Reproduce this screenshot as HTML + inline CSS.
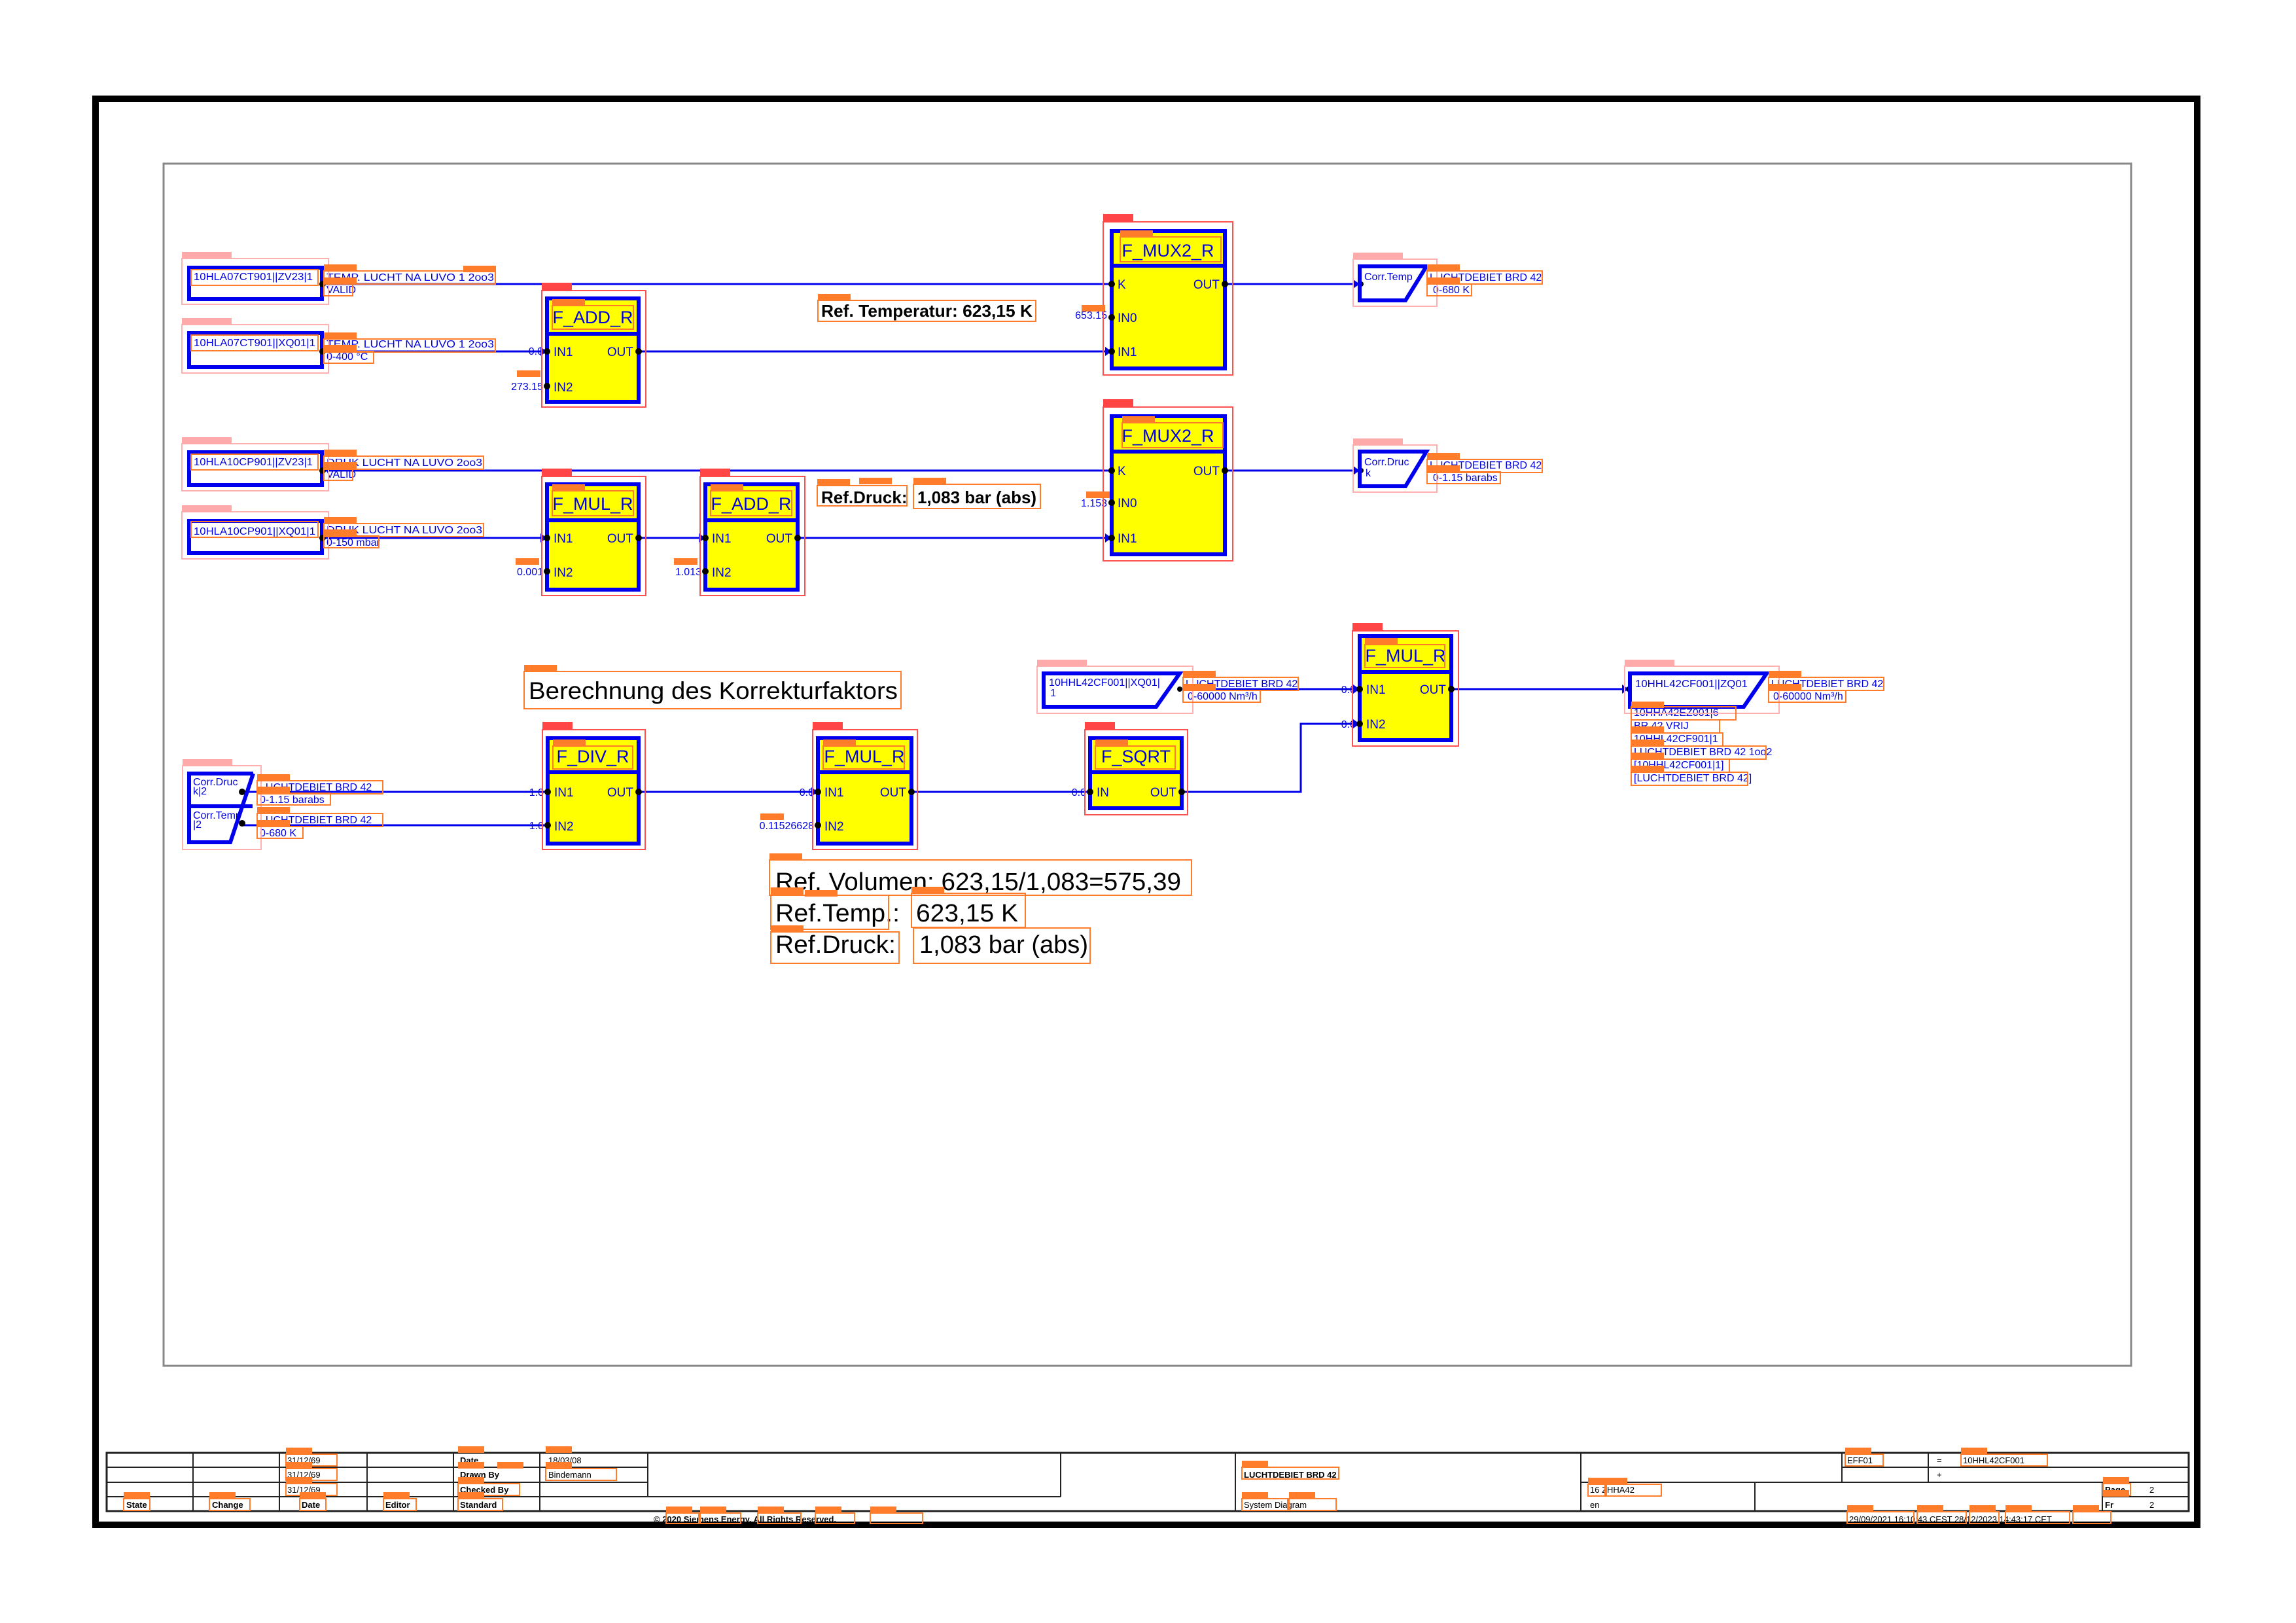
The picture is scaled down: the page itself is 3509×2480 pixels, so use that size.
<!DOCTYPE html>
<html><head><meta charset="utf-8"><style>
html,body{margin:0;padding:0;background:#fff}
svg{display:block}
.b{fill:none;stroke:#0000ee;stroke-width:6}
.w{fill:none;stroke:#0000ee;stroke-width:3}
.y{fill:#ffff00;stroke:#0000ee;stroke-width:6}
.t{font-family:"Liberation Sans",sans-serif;fill:#0000dd;font-size:16px}
.pt{font-family:"Liberation Sans",sans-serif;fill:#0000dd;font-size:19px}
.ti{font-family:"Liberation Sans",sans-serif;fill:#0000dd;font-size:27px}
.k{font-family:"Liberation Sans",sans-serif;fill:#000}
.tb{font-family:"Liberation Sans",sans-serif;fill:#000;font-size:13px}
.ob{fill:none;stroke:#ff7d2a;stroke-width:2}
.lc{fill:none;stroke:#ff5050;stroke-width:2}
.li{fill:none;stroke:#ffb0b0;stroke-width:2}
.of{fill:#ff7d2a}
.rf{fill:#ff4545}
.pf{fill:#ffaaaa}
.g{stroke:#222;stroke-width:2}
</style></head><body>
<svg width="3509" height="2480" viewBox="0 0 3509 2480" xmlns="http://www.w3.org/2000/svg">
<rect width="3509" height="2480" fill="#fff"/>
<rect x="146" y="151" width="3212" height="2179" fill="none" stroke="#000" stroke-width="10"/>
<rect x="250" y="250" width="3007" height="1837" fill="none" stroke="#888" stroke-width="3"/>

<polyline class="w" points="493,434 1699,434"/>
<polyline class="w" points="493,537 836,537"/>
<polyline class="w" points="976,537 1699,537"/>
<polyline class="w" points="493,719 1699,719"/>
<polyline class="w" points="493,822 836,822"/>
<polyline class="w" points="976,822 1078,822"/>
<polyline class="w" points="1219,822 1699,822"/>
<polyline class="w" points="1872,434 2078,434"/>
<polyline class="w" points="1872,719 2078,719"/>
<polyline class="w" points="370,1210 837,1210"/>
<polyline class="w" points="370,1261 837,1261"/>
<polyline class="w" points="976,1210 1250,1210"/>
<polyline class="w" points="1393,1210 1666,1210"/>
<polyline class="w" points="1806,1210 1988,1210 1988,1106 2078,1106"/>
<polyline class="w" points="1803,1053 2078,1053"/>
<polyline class="w" points="2218,1053 2489,1053"/>
<g fill="#0000ee">
<polygon points="1699,537 1689,530 1689,544"/>
<polygon points="1699,822 1689,815 1689,829"/>
<polygon points="836,822 826,815 826,829"/>
<polygon points="1078,822 1068,815 1068,829"/>
<polygon points="836,537 826,530 826,544"/>
<polygon points="2078,434 2068,427 2068,441"/>
<polygon points="2078,719 2068,712 2068,726"/>
<polygon points="2489,1053 2479,1046 2479,1060"/>
<polygon points="2078,1053 2068,1046 2068,1060"/>
<polygon points="2078,1106 2068,1099 2068,1113"/>
<polygon points="1250,1210 1240,1203 1240,1217"/>
</g>

<rect class="b" x="289" y="409" width="203" height="48"/>
<rect class="b" x="289" y="509" width="203" height="52"/>
<rect class="b" x="289" y="691" width="203" height="50"/>
<rect class="b" x="289" y="796" width="203" height="49"/>
<text class="t" x="296" y="428" textLength="182" lengthAdjust="spacingAndGlyphs">10HLA07CT901||ZV23|1</text>
<text class="t" x="296" y="529" textLength="186" lengthAdjust="spacingAndGlyphs">10HLA07CT901||XQ01|1</text>
<text class="t" x="296" y="711" textLength="182" lengthAdjust="spacingAndGlyphs">10HLA10CP901||ZV23|1</text>
<text class="t" x="296" y="817" textLength="186" lengthAdjust="spacingAndGlyphs">10HLA10CP901||XQ01|1</text>
<text class="t" x="499" y="429" textLength="256" lengthAdjust="spacingAndGlyphs">TEMP. LUCHT NA LUVO 1  2oo3</text>
<text class="t" x="499" y="448">VALID</text>
<text class="t" x="499" y="531" textLength="256" lengthAdjust="spacingAndGlyphs">TEMP. LUCHT NA LUVO 1  2oo3</text>
<text class="t" x="499" y="550">0-400 °C</text>
<text class="t" x="499" y="712" textLength="238" lengthAdjust="spacingAndGlyphs">DRUK LUCHT NA LUVO  2oo3</text>
<text class="t" x="499" y="730">VALID</text>
<text class="t" x="499" y="815" textLength="238" lengthAdjust="spacingAndGlyphs">DRUK LUCHT NA LUVO  2oo3</text>
<text class="t" x="499" y="834">0-150 mbar</text>

<rect class="y" x="836" y="456" width="140" height="158"/>
<line x1="836" y1="510" x2="976" y2="510" stroke="#0000ee" stroke-width="6"/>
<text class="ti" x="906" y="494" text-anchor="middle">F_ADD_R</text>
<text class="pt" x="846" y="544">IN1</text><text class="pt" x="846" y="598">IN2</text><text class="pt" x="968" y="544" text-anchor="end">OUT</text>
<text class="t" x="830" y="542" text-anchor="end">0.0</text><text class="t" x="830" y="596" text-anchor="end">273.15</text>
<rect class="y" x="836" y="740" width="140" height="161"/>
<line x1="836" y1="795" x2="976" y2="795" stroke="#0000ee" stroke-width="6"/>
<text class="ti" x="906" y="779" text-anchor="middle">F_MUL_R</text>
<text class="pt" x="846" y="829">IN1</text><text class="pt" x="846" y="881">IN2</text><text class="pt" x="968" y="829" text-anchor="end">OUT</text>
<text class="t" x="830" y="879" text-anchor="end">0.001</text>
<rect class="y" x="1078" y="740" width="141" height="161"/>
<line x1="1078" y1="795" x2="1219" y2="795" stroke="#0000ee" stroke-width="6"/>
<text class="ti" x="1148" y="779" text-anchor="middle">F_ADD_R</text>
<text class="pt" x="1088" y="829">IN1</text><text class="pt" x="1088" y="881">IN2</text><text class="pt" x="1211" y="829" text-anchor="end">OUT</text>
<text class="t" x="1072" y="879" text-anchor="end">1.013</text>
<rect class="y" x="1699" y="353" width="173" height="210"/>
<line x1="1699" y1="406" x2="1872" y2="406" stroke="#0000ee" stroke-width="6"/>
<text class="ti" x="1785" y="392" text-anchor="middle">F_MUX2_R</text>
<text class="pt" x="1708" y="441">K</text><text class="pt" x="1708" y="492">IN0</text><text class="pt" x="1708" y="544">IN1</text><text class="pt" x="1864" y="441" text-anchor="end">OUT</text>
<text class="t" x="1692" y="487" text-anchor="end">653.15</text>
<rect class="y" x="1699" y="636" width="173" height="211"/>
<line x1="1699" y1="690" x2="1872" y2="690" stroke="#0000ee" stroke-width="6"/>
<text class="ti" x="1785" y="675" text-anchor="middle">F_MUX2_R</text>
<text class="pt" x="1708" y="726">K</text><text class="pt" x="1708" y="775">IN0</text><text class="pt" x="1708" y="829">IN1</text><text class="pt" x="1864" y="726" text-anchor="end">OUT</text>
<text class="t" x="1692" y="774" text-anchor="end">1.153</text>
<rect class="y" x="837" y="1128" width="139" height="161"/>
<line x1="837" y1="1180" x2="976" y2="1180" stroke="#0000ee" stroke-width="6"/>
<text class="ti" x="906" y="1165" text-anchor="middle">F_DIV_R</text>
<text class="pt" x="847" y="1217">IN1</text><text class="pt" x="847" y="1269">IN2</text><text class="pt" x="968" y="1217" text-anchor="end">OUT</text>
<text class="t" x="831" y="1216" text-anchor="end">1.0</text><text class="t" x="831" y="1267" text-anchor="end">1.0</text>
<rect class="y" x="1250" y="1128" width="143" height="161"/>
<line x1="1250" y1="1180" x2="1393" y2="1180" stroke="#0000ee" stroke-width="6"/>
<text class="ti" x="1321" y="1165" text-anchor="middle">F_MUL_R</text>
<text class="pt" x="1260" y="1217">IN1</text><text class="pt" x="1260" y="1269">IN2</text><text class="pt" x="1385" y="1217" text-anchor="end">OUT</text>
<text class="t" x="1244" y="1216" text-anchor="end">0.0</text><text class="t" x="1244" y="1267" text-anchor="end">0.11526628</text>
<rect class="y" x="1666" y="1128" width="140" height="107"/>
<line x1="1666" y1="1180" x2="1806" y2="1180" stroke="#0000ee" stroke-width="6"/>
<text class="ti" x="1736" y="1165" text-anchor="middle">F_SQRT</text>
<text class="pt" x="1676" y="1217">IN</text><text class="pt" x="1798" y="1217" text-anchor="end">OUT</text>
<text class="t" x="1660" y="1216" text-anchor="end">0.0</text>
<rect class="y" x="2078" y="972" width="140" height="159"/>
<line x1="2078" y1="1027" x2="2218" y2="1027" stroke="#0000ee" stroke-width="6"/>
<text class="ti" x="2148" y="1011" text-anchor="middle">F_MUL_R</text>
<text class="pt" x="2088" y="1060">IN1</text><text class="pt" x="2088" y="1113">IN2</text><text class="pt" x="2210" y="1060" text-anchor="end">OUT</text>
<text class="t" x="2072" y="1059" text-anchor="end">0.0</text><text class="t" x="2072" y="1112" text-anchor="end">0.0</text>

<g fill="#000">
<circle cx="493" cy="434" r="5"/><circle cx="493" cy="537" r="5"/><circle cx="493" cy="719" r="5"/><circle cx="493" cy="822" r="5"/>
<circle cx="836" cy="537" r="5"/><circle cx="836" cy="590" r="5"/><circle cx="976" cy="537" r="5"/>
<circle cx="836" cy="822" r="5"/><circle cx="836" cy="873" r="5"/><circle cx="976" cy="822" r="5"/>
<circle cx="1078" cy="822" r="5"/><circle cx="1078" cy="873" r="5"/><circle cx="1219" cy="822" r="5"/>
<circle cx="1699" cy="434" r="5"/><circle cx="1699" cy="485" r="5"/><circle cx="1699" cy="537" r="5"/><circle cx="1872" cy="434" r="5"/>
<circle cx="1699" cy="719" r="5"/><circle cx="1699" cy="768" r="5"/><circle cx="1699" cy="822" r="5"/><circle cx="1872" cy="719" r="5"/>
<circle cx="837" cy="1210" r="5"/><circle cx="837" cy="1261" r="5"/><circle cx="976" cy="1210" r="5"/>
<circle cx="1250" cy="1210" r="5"/><circle cx="1250" cy="1261" r="5"/><circle cx="1393" cy="1210" r="5"/>
<circle cx="1666" cy="1210" r="5"/><circle cx="1806" cy="1210" r="5"/>
<circle cx="2078" cy="1053" r="5"/><circle cx="2078" cy="1106" r="5"/><circle cx="2218" cy="1053" r="5"/>
<circle cx="370" cy="1210" r="5"/><circle cx="370" cy="1258" r="5"/><circle cx="1803" cy="1053" r="4"/>
<circle cx="2080" cy="434" r="4"/><circle cx="2080" cy="719" r="4"/><circle cx="2489" cy="1053" r="4"/>
</g>

<polygon class="b" points="2078,407 2180,407 2148,459 2078,459"/>
<text class="t" x="2085" y="428">Corr.Temp</text>
<text class="t" x="2185" y="429">LUCHTDEBIET BRD 42</text>
<text class="t" x="2190" y="448">0-680 K</text>
<polygon class="b" points="2078,690 2180,690 2148,743 2078,743"/>
<text class="t" x="2085" y="711">Corr.Druc</text><text class="t" x="2087" y="728">k</text>
<text class="t" x="2185" y="716">LUCHTDEBIET BRD 42</text>
<text class="t" x="2190" y="735">0-1.15 barabs</text>

<polygon class="b" points="1595,1029 1803,1029 1767,1080 1595,1080"/>
<text class="t" x="1603" y="1048" textLength="170" lengthAdjust="spacingAndGlyphs">10HHL42CF001||XQ01|</text>
<text class="t" x="1605" y="1064">1</text>
<text class="t" x="1812" y="1050">LUCHTDEBIET BRD 42</text>
<text class="t" x="1815" y="1069">0-60000 Nm³/h</text>

<polygon class="b" points="2491,1029 2700,1029 2665,1080 2491,1080"/>
<text class="t" x="2499" y="1050" textLength="172" lengthAdjust="spacingAndGlyphs">10HHL42CF001||ZQ01</text>
<text class="t" x="2707" y="1050">LUCHTDEBIET BRD 42</text>
<text class="t" x="2710" y="1069">0-60000 Nm³/h</text>
<text class="t" x="2497" y="1094">10HHA42EZ001|6</text>
<text class="t" x="2497" y="1114">BR 42 VRIJ</text>
<text class="t" x="2497" y="1134">10HHL42CF901|1</text>
<text class="t" x="2497" y="1154">LUCHTDEBIET BRD 42 1oo2</text>
<text class="t" x="2497" y="1174">[10HHL42CF001|1]</text>
<text class="t" x="2497" y="1194">[LUCHTDEBIET BRD 42]</text>

<polyline class="b" points="387,1182 289,1182 289,1287 352,1287 387,1182"/>
<polyline class="b" points="289,1232 386,1232"/>
<text class="t" x="295" y="1200">Corr.Druc</text><text class="t" x="295" y="1214">k|2</text>
<text class="t" x="295" y="1251">Corr.Temp</text><text class="t" x="295" y="1265">|2</text>
<text class="t" x="397" y="1208">LUCHTDEBIET BRD 42</text>
<text class="t" x="397" y="1227">0-1.15 barabs</text>
<text class="t" x="397" y="1258">LUCHTDEBIET BRD 42</text>
<text class="t" x="397" y="1278">0-680 K</text>

<text class="k" x="1255" y="484" font-size="26" font-weight="bold" textLength="323" lengthAdjust="spacingAndGlyphs">Ref. Temperatur:  623,15 K</text>
<text class="k" x="1255" y="769" font-size="26" font-weight="bold">Ref.Druck:</text>
<text class="k" x="1402" y="769" font-size="26" font-weight="bold">1,083 bar (abs)</text>
<text class="k" x="808" y="1068" font-size="37" textLength="564" lengthAdjust="spacingAndGlyphs">Berechnung des Korrekturfaktors</text>
<text class="k" x="1185" y="1360" font-size="38" textLength="620" lengthAdjust="spacingAndGlyphs">Ref. Volumen: 623,15/1,083=575,39</text>
<text class="k" x="1185" y="1408" font-size="38" textLength="190" lengthAdjust="spacingAndGlyphs">Ref.Temp.:</text>
<text class="k" x="1400" y="1408" font-size="38" textLength="156" lengthAdjust="spacingAndGlyphs">623,15 K</text>
<text class="k" x="1185" y="1456" font-size="38" textLength="184" lengthAdjust="spacingAndGlyphs">Ref.Druck:</text>
<text class="k" x="1405" y="1456" font-size="38" textLength="258" lengthAdjust="spacingAndGlyphs">1,083 bar (abs)</text>

<g>
<rect class="lc" x="828" y="444" width="159" height="178"/><rect class="rf" x="828" y="432" width="46" height="12"/>
<rect class="lc" x="828" y="728" width="159" height="182"/><rect class="rf" x="828" y="716" width="46" height="12"/>
<rect class="lc" x="1070" y="728" width="160" height="182"/><rect class="rf" x="1070" y="716" width="46" height="12"/>
<rect class="lc" x="1686" y="339" width="198" height="234"/><rect class="rf" x="1686" y="327" width="46" height="12"/>
<rect class="lc" x="1686" y="622" width="198" height="235"/><rect class="rf" x="1686" y="610" width="46" height="12"/>
<rect class="lc" x="829" y="1115" width="157" height="183"/><rect class="rf" x="829" y="1103" width="46" height="12"/>
<rect class="lc" x="1242" y="1115" width="160" height="183"/><rect class="rf" x="1242" y="1103" width="46" height="12"/>
<rect class="lc" x="1658" y="1115" width="157" height="130"/><rect class="rf" x="1658" y="1103" width="46" height="12"/>
<rect class="lc" x="2067" y="964" width="162" height="176"/><rect class="rf" x="2067" y="952" width="46" height="12"/>
<rect class="li" x="278" y="395" width="224" height="70"/><rect class="pf" x="278" y="385" width="76" height="10"/>
<rect class="li" x="278" y="496" width="224" height="74"/><rect class="pf" x="278" y="486" width="76" height="10"/>
<rect class="li" x="278" y="678" width="224" height="72"/><rect class="pf" x="278" y="668" width="76" height="10"/>
<rect class="li" x="278" y="782" width="224" height="72"/><rect class="pf" x="278" y="772" width="76" height="10"/>
<rect class="li" x="2068" y="396" width="128" height="72"/><rect class="pf" x="2068" y="386" width="76" height="10"/>
<rect class="li" x="2068" y="680" width="128" height="72"/><rect class="pf" x="2068" y="670" width="76" height="10"/>
<rect class="li" x="1585" y="1018" width="238" height="72"/><rect class="pf" x="1585" y="1008" width="76" height="10"/>
<rect class="li" x="2483" y="1018" width="236" height="72"/><rect class="pf" x="2483" y="1008" width="76" height="10"/>
<rect class="li" x="279" y="1170" width="120" height="128"/><rect class="pf" x="279" y="1160" width="76" height="10"/>
<g class="ob">
<rect x="1250" y="459" width="333" height="32"/><rect x="1249" y="742" width="137" height="31"/><rect x="1396" y="740" width="194" height="37"/>
<rect x="801" y="1026" width="576" height="57"/><rect x="1176" y="1314" width="645" height="54"/>
<rect x="1178" y="1368" width="180" height="52"/><rect x="1393" y="1365" width="174" height="52"/>
<rect x="1178" y="1424" width="196" height="48"/><rect x="1396" y="1418" width="270" height="54"/>
<rect x="844" y="467" width="124" height="36"/><rect x="844" y="750" width="124" height="38"/><rect x="1086" y="750" width="124" height="38"/>
<rect x="1712" y="362" width="154" height="38"/><rect x="1715" y="646" width="154" height="38"/>
<rect x="845" y="1140" width="122" height="35"/><rect x="1258" y="1140" width="124" height="35"/><rect x="1674" y="1140" width="122" height="35"/><rect x="2086" y="985" width="122" height="35"/>
<rect x="292" y="412" width="194" height="24"/><rect x="292" y="512" width="194" height="24"/><rect x="292" y="694" width="194" height="24"/><rect x="292" y="797" width="194" height="24"/>
<rect x="495" y="414" width="262" height="20"/><rect x="495" y="434" width="44" height="18"/>
<rect x="495" y="518" width="262" height="20"/><rect x="495" y="537" width="76" height="18"/>
<rect x="495" y="697" width="244" height="20"/><rect x="495" y="716" width="44" height="18"/>
<rect x="495" y="800" width="244" height="20"/><rect x="495" y="819" width="84" height="18"/>
<rect x="2181" y="414" width="176" height="20"/><rect x="2181" y="434" width="68" height="18"/>
<rect x="2181" y="702" width="176" height="20"/><rect x="2181" y="721" width="112" height="18"/>
<rect x="1808" y="1035" width="176" height="20"/><rect x="1808" y="1055" width="118" height="18"/>
<rect x="2703" y="1035" width="176" height="20"/><rect x="2703" y="1055" width="118" height="18"/>
<rect x="2493" y="1080" width="160" height="20"/><rect x="2493" y="1100" width="135" height="20"/><rect x="2493" y="1120" width="140" height="20"/><rect x="2493" y="1140" width="206" height="20"/><rect x="2493" y="1160" width="150" height="20"/><rect x="2493" y="1180" width="178" height="20"/>
<rect x="393" y="1193" width="192" height="20"/><rect x="393" y="1212" width="112" height="18"/><rect x="393" y="1243" width="192" height="20"/><rect x="393" y="1263" width="70" height="18"/>
</g>
<g class="of">
<rect x="1250" y="449" width="50" height="10"/><rect x="1249" y="732" width="50" height="10"/><rect x="1313" y="730" width="50" height="10"/><rect x="1396" y="730" width="50" height="10"/>
<rect x="801" y="1016" width="50" height="10"/><rect x="1176" y="1304" width="50" height="10"/><rect x="1178" y="1356" width="50" height="12"/><rect x="1230" y="1360" width="50" height="10"/><rect x="1393" y="1355" width="50" height="10"/><rect x="1178" y="1414" width="50" height="10"/>
<rect x="844" y="457" width="50" height="10"/><rect x="844" y="740" width="50" height="10"/><rect x="1086" y="740" width="50" height="10"/>
<rect x="1712" y="352" width="50" height="10"/><rect x="1715" y="636" width="50" height="10"/>
<rect x="845" y="1130" width="50" height="10"/><rect x="1258" y="1130" width="50" height="10"/><rect x="1674" y="1130" width="50" height="10"/><rect x="2086" y="975" width="50" height="10"/>
<rect x="495" y="404" width="50" height="10"/><rect x="495" y="424" width="50" height="10"/><rect x="708" y="406" width="50" height="10"/>
<rect x="495" y="508" width="50" height="10"/><rect x="495" y="527" width="50" height="10"/>
<rect x="495" y="687" width="50" height="10"/><rect x="495" y="706" width="50" height="10"/>
<rect x="495" y="790" width="50" height="10"/><rect x="495" y="809" width="50" height="10"/>
<rect x="2181" y="404" width="50" height="10"/><rect x="2181" y="424" width="50" height="10"/>
<rect x="2181" y="692" width="50" height="10"/><rect x="2181" y="711" width="50" height="10"/>
<rect x="1808" y="1025" width="50" height="10"/><rect x="1808" y="1045" width="50" height="10"/>
<rect x="2703" y="1025" width="50" height="10"/><rect x="2703" y="1045" width="50" height="10"/>
<rect x="2493" y="1072" width="50" height="10"/><rect x="2493" y="1110" width="50" height="10"/><rect x="2493" y="1130" width="50" height="10"/><rect x="2493" y="1150" width="50" height="10"/><rect x="2493" y="1170" width="50" height="10"/>
<rect x="393" y="1183" width="50" height="10"/><rect x="393" y="1202" width="50" height="10"/><rect x="393" y="1233" width="50" height="10"/><rect x="393" y="1253" width="50" height="10"/>
<rect x="1653" y="466" width="36" height="10"/><rect x="1660" y="751" width="36" height="10"/><rect x="790" y="566" width="36" height="10"/><rect x="788" y="853" width="36" height="10"/><rect x="1030" y="853" width="36" height="10"/><rect x="1162" y="1243" width="36" height="10"/>
</g>
</g>

<g class="g" fill="none">
<rect x="163" y="2220" width="3182" height="89" stroke-width="3"/>
<line x1="163" y1="2242" x2="990" y2="2242"/>
<line x1="163" y1="2265" x2="990" y2="2265"/>
<line x1="163" y1="2287" x2="1621" y2="2287"/>
<line x1="295" y1="2220" x2="295" y2="2309"/>
<line x1="427" y1="2220" x2="427" y2="2309"/>
<line x1="561" y1="2220" x2="561" y2="2309"/>
<line x1="693" y1="2220" x2="693" y2="2309"/>
<line x1="825" y1="2220" x2="825" y2="2309"/>
<line x1="990" y1="2220" x2="990" y2="2287"/>
<line x1="1621" y1="2220" x2="1621" y2="2287"/>
<line x1="1888" y1="2220" x2="1888" y2="2309"/>
<line x1="2416" y1="2220" x2="2416" y2="2309"/>
<line x1="2416" y1="2265" x2="3345" y2="2265"/>
<line x1="2682" y1="2265" x2="2682" y2="2309"/>
<line x1="2815" y1="2220" x2="2815" y2="2265"/>
<line x1="2947" y1="2220" x2="2947" y2="2265"/>
<line x1="2815" y1="2242" x2="3345" y2="2242"/>
<line x1="3213" y1="2265" x2="3213" y2="2309"/>
<line x1="3213" y1="2287" x2="3345" y2="2287"/>
</g>
<g class="tb">
<text x="439" y="2236">31/12/69</text><text x="439" y="2258">31/12/69</text><text x="439" y="2281">31/12/69</text>
<text x="193" y="2304" font-weight="bold">State</text><text x="324" y="2304" font-weight="bold">Change</text><text x="461" y="2304" font-weight="bold">Date</text><text x="589" y="2304" font-weight="bold">Editor</text><text x="703" y="2304" font-weight="bold">Standard</text>
<text x="703" y="2236" font-weight="bold">Date</text><text x="838" y="2236">18/03/08</text>
<text x="703" y="2258" font-weight="bold">Drawn By</text><text x="838" y="2258">Bindemann</text>
<text x="703" y="2281" font-weight="bold">Checked By</text>
<text x="999" y="2326" font-weight="bold">© 2020 Siemens Energy. All Rights Reserved.</text>
<text x="1901" y="2258" font-weight="bold">LUCHTDEBIET BRD 42</text>
<text x="1901" y="2304">System Diagram</text>
<text x="2430" y="2281">16 ZHHA42</text><text x="2430" y="2304">en</text>
<text x="2823" y="2236">EFF01</text><text x="2960" y="2236">=</text><text x="3000" y="2236">10HHL42CF001</text>
<text x="2960" y="2258">+</text>
<text x="3217" y="2281" font-weight="bold">Page</text><text x="3285" y="2281">2</text>
<text x="3217" y="2304" font-weight="bold">Fr</text><text x="3285" y="2304">2</text>
<text x="2826" y="2326">29/09/2021  16:10:43 CEST  28/12/2023  14:43:17 CET</text>
</g>
<g class="ob">
<rect x="437" y="2222" width="78" height="18"/><rect x="437" y="2244" width="78" height="18"/><rect x="437" y="2267" width="78" height="18"/>
<rect x="189" y="2290" width="40" height="18"/><rect x="320" y="2290" width="62" height="18"/><rect x="458" y="2290" width="40" height="18"/><rect x="586" y="2290" width="50" height="18"/><rect x="700" y="2290" width="68" height="18"/>
<rect x="834" y="2244" width="108" height="18"/><rect x="700" y="2267" width="94" height="18"/>
<rect x="1018" y="2312" width="50" height="16"/><rect x="1070" y="2312" width="62" height="16"/><rect x="1158" y="2312" width="66" height="16"/><rect x="1246" y="2312" width="60" height="16"/><rect x="1330" y="2312" width="80" height="16"/>
<rect x="1898" y="2242" width="148" height="18"/><rect x="1898" y="2290" width="70" height="18"/><rect x="1970" y="2290" width="72" height="18"/>
<rect x="2427" y="2268" width="26" height="18"/><rect x="2455" y="2268" width="84" height="18"/>
<rect x="2820" y="2222" width="58" height="18"/><rect x="2997" y="2222" width="132" height="18"/><rect x="3214" y="2267" width="42" height="18"/>
<rect x="2823" y="2310" width="102" height="18"/><rect x="2930" y="2310" width="75" height="18"/><rect x="3010" y="2310" width="45" height="18"/><rect x="3065" y="2310" width="98" height="18"/><rect x="3168" y="2310" width="58" height="18"/>
</g>
<g class="of">
<rect x="437" y="2212" width="40" height="10"/><rect x="437" y="2234" width="40" height="10"/><rect x="437" y="2257" width="40" height="10"/>
<rect x="189" y="2280" width="40" height="10"/><rect x="320" y="2280" width="40" height="10"/><rect x="458" y="2280" width="40" height="10"/><rect x="586" y="2280" width="40" height="10"/><rect x="700" y="2280" width="40" height="10"/>
<rect x="700" y="2210" width="40" height="10"/><rect x="834" y="2210" width="40" height="10"/><rect x="700" y="2234" width="40" height="10"/><rect x="760" y="2234" width="40" height="10"/><rect x="834" y="2234" width="40" height="10"/><rect x="700" y="2257" width="40" height="10"/>
<rect x="1018" y="2302" width="40" height="10"/><rect x="1070" y="2302" width="40" height="10"/><rect x="1158" y="2302" width="40" height="10"/><rect x="1246" y="2302" width="40" height="10"/><rect x="1330" y="2302" width="40" height="10"/>
<rect x="1898" y="2232" width="40" height="10"/><rect x="1898" y="2280" width="40" height="10"/><rect x="1970" y="2280" width="40" height="10"/>
<rect x="2427" y="2258" width="60" height="10"/><rect x="2820" y="2212" width="40" height="10"/><rect x="2997" y="2212" width="40" height="10"/><rect x="3214" y="2257" width="40" height="10"/><rect x="3214" y="2277" width="40" height="10"/>
<rect x="2823" y="2300" width="40" height="10"/><rect x="2930" y="2300" width="40" height="10"/><rect x="3010" y="2300" width="40" height="10"/><rect x="3065" y="2300" width="40" height="10"/><rect x="3168" y="2300" width="40" height="10"/>
</g>
</svg>
</body></html>
